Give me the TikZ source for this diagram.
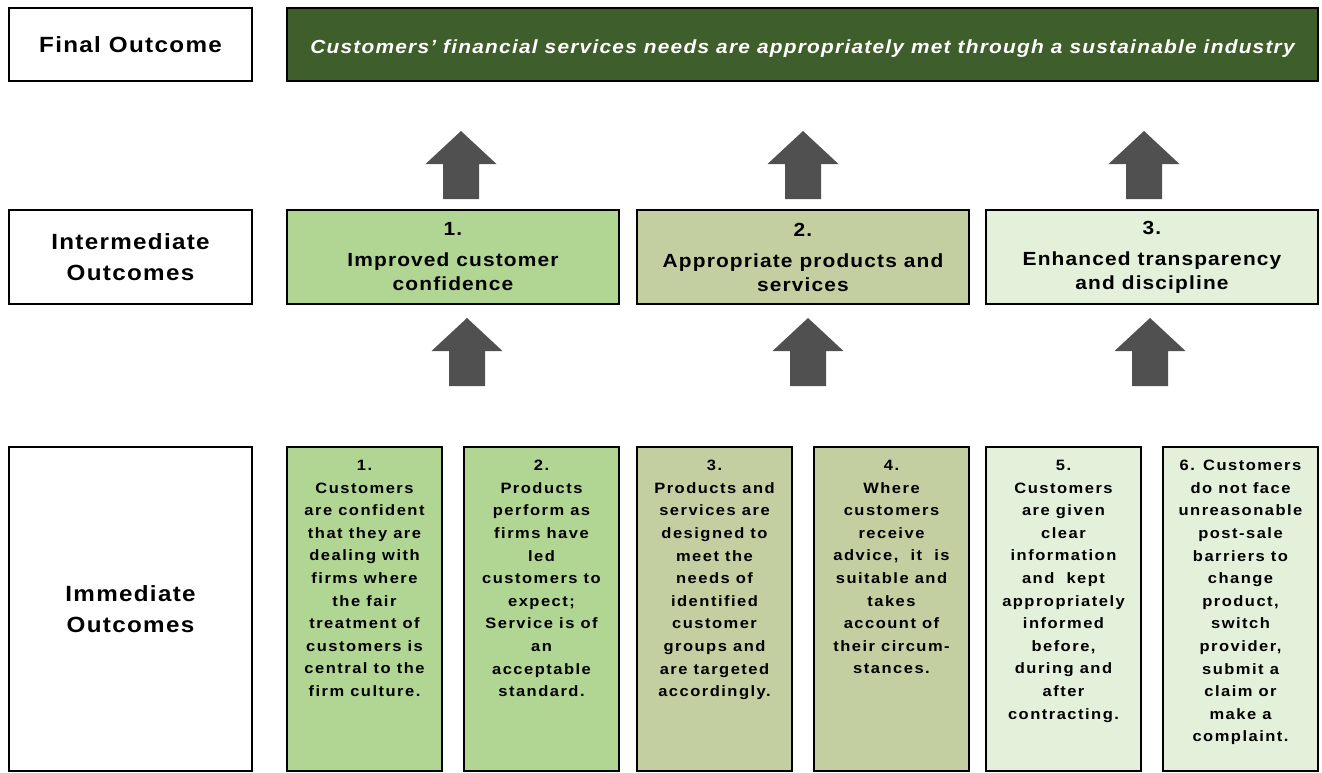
\documentclass[tikz,border=0pt]{standalone}
\usepackage{fontspec}
\setmainfont{Liberation Sans}[FakeStretch=1.1]
\usetikzlibrary{positioning}

\definecolor{headgreen}{HTML}{3E5E2B}
\definecolor{confgreen}{HTML}{B1D593}
\definecolor{prodgreen}{HTML}{C3CFA0}
\definecolor{palegreen}{HTML}{E3F0DA}
\definecolor{arrowgray}{HTML}{505050}

\tikzstyle{rowlabel} = [rectangle, minimum width=243pt, align=center, draw=black, line width=2.5pt, fill=white, outer sep=0pt, inner sep=0pt, font={\fontsize{22}{31}\selectfont\bfseries\addfontfeatures{LetterSpace=6}}]
\tikzstyle{finalbox} = [rectangle, minimum width=1031pt, minimum height=73pt, text height=17pt, text depth=0pt, draw=black, line width=2.5pt, fill=headgreen, text=white, outer sep=0pt, inner sep=0pt, font={\fontsize{19}{22}\selectfont\bfseries\itshape\addfontfeatures{LetterSpace=6.4}}]
\tikzstyle{midbox} = [rectangle, minimum width=332pt, minimum height=94pt, align=center, draw=black, line width=2.5pt, outer sep=0pt, inner sep=0pt, font={\fontsize{19}{24}\selectfont\bfseries\addfontfeatures{LetterSpace=6}}]
\tikzstyle{lowbox} = [rectangle, minimum width=155pt, minimum height=324pt, draw=black, line width=2.5pt, outer sep=0pt, inner sep=0pt]
\tikzstyle{lowtext} = [align=center, inner sep=0pt, font={\fontsize{15}{22.6}\selectfont\bfseries\addfontfeatures{LetterSpace=10}}]

% block arrow: centre x, base y (y grows downwards)
\newcommand{\blockarrow}[2]{\fill[arrowgray] (#1-18,#2) -- (#1-18,#2-35) -- (#1-35.5,#2-35) -- (#1,#2-68) -- (#1+35.5,#2-35) -- (#1+18,#2-35) -- (#1+18,#2) -- cycle;}

\begin{document}
\begin{tikzpicture}[x=1pt, y=-1pt]
  \useasboundingbox (0,0) rectangle (1322,772);

  % row labels
  \node (Final Outcome) [rowlabel, minimum height=73pt] at (130.5,44.5) {Final Outcome};
  \node (Intermediate) [rowlabel, minimum height=94pt] at (130.5,257) {Intermediate\\Outcomes};
  \node (Immediate) [rowlabel, minimum height=324pt] at (130.5,609) {Immediate\\Outcomes};

  % final outcome
  \node (Customer Needs) [finalbox, right=35pt of Final Outcome] {Customers’ financial services needs are appropriately met through a sustainable industry};

  % intermediate outcomes
  \node (Confidence) [midbox, fill=confgreen, right=35pt of Intermediate] {1.\\[7pt]Improved customer\\confidence};
  \node (Products) [midbox, fill=prodgreen, right=18pt of Confidence] {2.\\[7pt]Appropriate products and\\services};
  \node (Transparency) [midbox, fill=palegreen, right=17pt of Products] {3.\\[7pt]Enhanced transparency\\and discipline};

  % immediate outcomes
  \node (Fair Treatment) [lowbox, fill=confgreen, right=35pt of Immediate] {};
  \node (Performance) [lowbox, fill=confgreen, right=22pt of Fair Treatment] {};
  \node (Design) [lowbox, fill=prodgreen, right=18pt of Performance] {};
  \node (Advice) [lowbox, fill=prodgreen, right=22pt of Design] {};
  \node (Information) [lowbox, fill=palegreen, right=17pt of Advice] {};
  \node (Barriers) [lowbox, fill=palegreen, right=22pt of Information] {};

  \node (Fair Treatment text) [lowtext, below=13pt of Fair Treatment.north] {1.\\Customers\\are confident\\that they are\\dealing with\\firms where\\the fair\\treatment of\\customers is\\central to the\\firm culture.};
  \node (Performance text) [lowtext, below=13pt of Performance.north] {2.\\Products\\perform as\\firms have\\led\\customers to\\expect;\\Service is of\\an\\acceptable\\standard.};
  \node (Design text) [lowtext, below=13pt of Design.north] {3.\\Products and\\services are\\designed to\\meet the\\needs of\\identified\\customer\\groups and\\are targeted\\accordingly.};
  \node (Advice text) [lowtext, below=13pt of Advice.north] {4.\\Where\\customers\\receive\\advice,~ it~ is\\suitable and\\takes\\account of\\their circum-\\stances.};
  \node (Information text) [lowtext, below=13pt of Information.north] {5.\\Customers\\are given\\clear\\information\\and~ kept\\appropriately\\informed\\before,\\during and\\after\\contracting.};
  \node (Barriers text) [lowtext, below=13pt of Barriers.north] {6. Customers\\do not face\\unreasonable\\post-sale\\barriers to\\change\\product,\\switch\\provider,\\submit a\\claim or\\make a\\complaint.};

  % arrows
  \foreach \ax/\ay in {461/199, 803/199, 1144/199, 467/386, 808/386, 1150/386}
    {\blockarrow{\ax}{\ay}}
\end{tikzpicture}
\end{document}
